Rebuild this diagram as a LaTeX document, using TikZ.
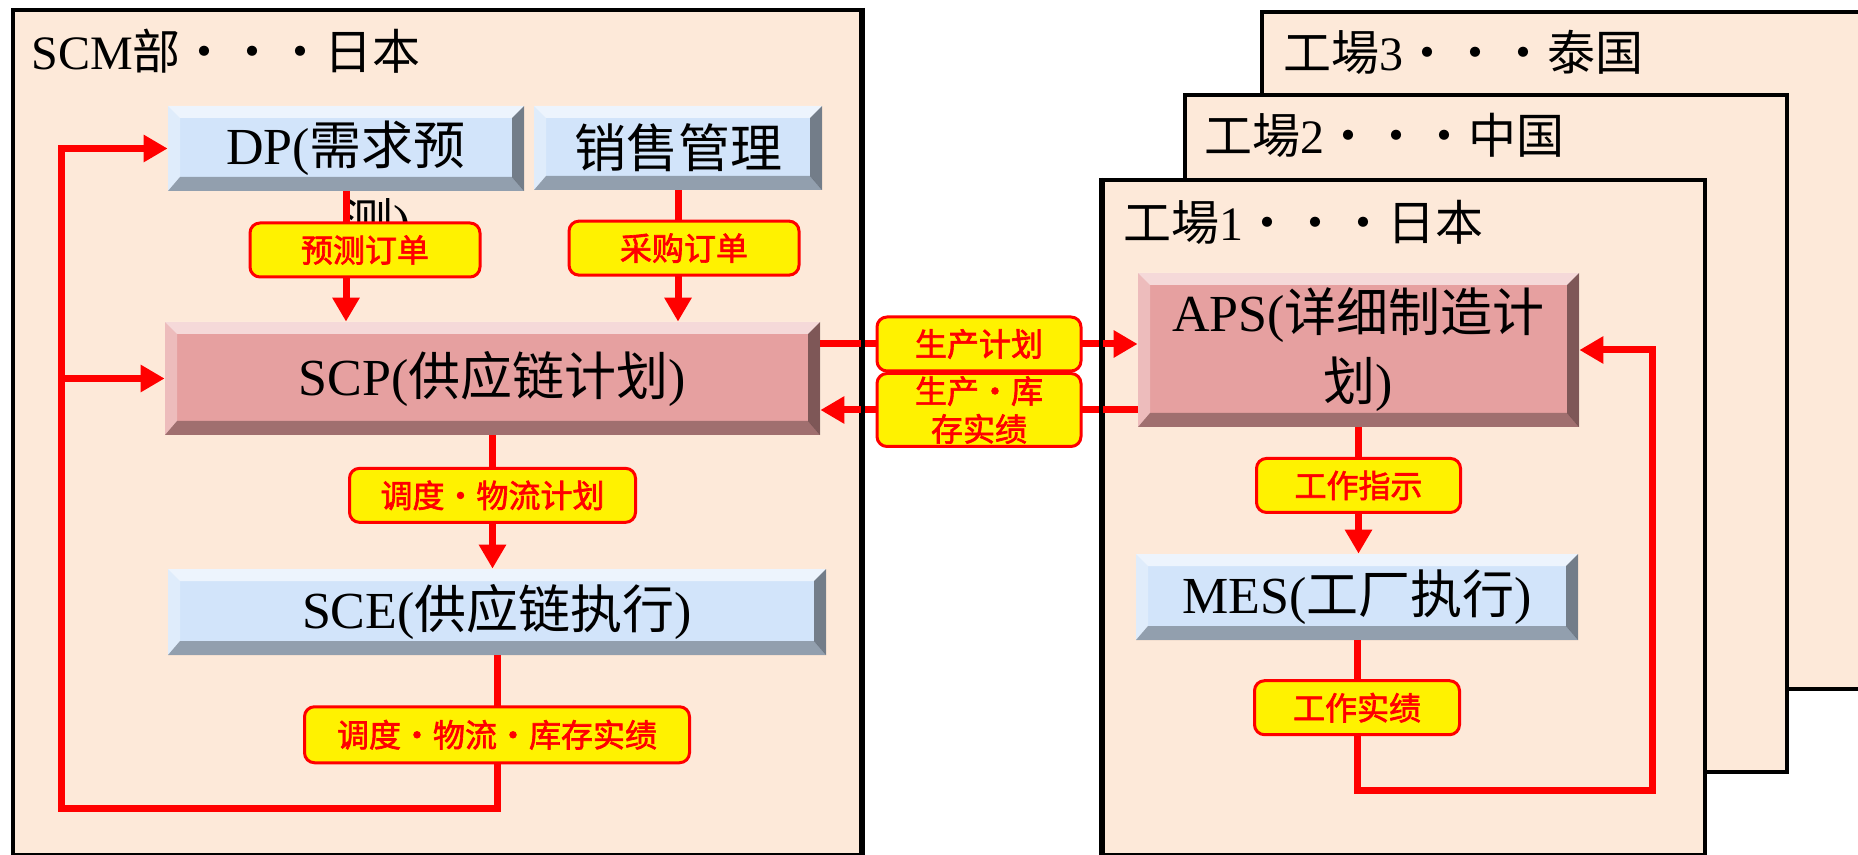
\documentclass[tikz,border=0pt]{standalone}
\usepackage{fontspec}
\setmainfont{Liberation Serif}
\newfontfamily\cjk{Noto Sans CJK SC}
\newfontfamily\tagcjk[FakeBold=2]{Noto Sans CJK SC}
\usetikzlibrary{arrows.meta, positioning}

\definecolor{peach}{HTML}{FDE9D9}
\definecolor{boxblue}{HTML}{D2E4FA}
\definecolor{boxpink}{HTML}{E6A0A0}

\newcommand{\boxfont}{\fontsize{26}{34.5}\selectfont}
\newcommand{\titlefont}{\fontsize{24}{28}\selectfont}
\newcommand{\tagfont}{\tagcjk\fontsize{16}{19}\selectfont}

\tikzset{
	frame/.style={draw=black, line width=2pt, fill=peach, anchor=north west, inner sep=0},
	border/.style={black, line width=2pt},
	title/.style={anchor=west, inner sep=0, font=\titlefont},
	bevel/.style={path picture={
		\path (path picture bounding box.north west) coordinate (bnw)
		      (path picture bounding box.north east) coordinate (bne)
		      (path picture bounding box.south west) coordinate (bsw)
		      (path picture bounding box.south east) coordinate (bse);
		\fill[white, opacity=.6] (bnw) -- (bne) -- ([shift={(-6pt,-6pt)}]bne) -- ([shift={(6pt,-6pt)}]bnw) -- cycle;
		\fill[white, opacity=.3] (bnw) -- ([shift={(6pt,-6pt)}]bnw) -- ([shift={(6pt,7pt)}]bsw) -- (bsw) -- cycle;
		\fill[black, opacity=.3] (bsw) -- ([shift={(6pt,7pt)}]bsw) -- ([shift={(-6pt,7pt)}]bse) -- (bse) -- cycle;
		\fill[black, opacity=.45] (bse) -- ([shift={(-6pt,7pt)}]bse) -- ([shift={(-6pt,-6pt)}]bne) -- (bne) -- cycle;
	}},
	sysbox/.style={bevel, fill=boxblue, inner sep=0, align=center, font=\boxfont},
	planbox/.style={sysbox, fill=boxpink},
	tag/.style={draw=red, fill=yellow, line width=1.5pt, rounded corners=5pt, text=red, font=\tagfont, inner sep=0, minimum height=27pt, align=center},
	flow/.style={red, line width=3.5pt, -{Triangle[length=12pt, width=13pt]}}
}

\begin{document}
\begin{tikzpicture}[x=0.5pt, y=-0.5pt]
	\useasboundingbox (0,0) rectangle (1858,855);
	\clip (0,0) rectangle (1858,855);

	% frames, back to front
	\node[frame, minimum width=320pt, minimum height=338.5pt]	(f3)	at (1260,10)	{};
	\node[frame, minimum width=301pt, minimum height=338.5pt]	(f2)	at (1183,93)	{};
	\node[frame, minimum width=301pt, minimum height=337.5pt]	(f1)	at (1101,178)	{};
	\node[frame, minimum width=424pt, minimum height=422.5pt]	(scm)	at (11,8)		{};

	\node[title]	(tScm)	at (31,51)		{SCM{\cjk 部・・・日本}};
	\node[title]	(tF3)	at (1283,52)	{{\cjk 工場}3{\cjk ・・・泰国}};
	\node[title]	(tF2)	at (1204,135)	{{\cjk 工場}2{\cjk ・・・中国}};
	\node[title]	(tF1)	at (1123,222)	{{\cjk 工場}1{\cjk ・・・日本}};

	\node[sysbox, minimum width=178pt, minimum height=42.5pt,
		label={[font=\boxfont, inner sep=0, label distance=3.5pt, xshift=15pt]below:{\cjk 测})}]
											(dp)	at (346,148.5)	{DP({\cjk 需求预}};
	\node[sysbox, minimum width=144pt, minimum height=42pt]		(sales)	at (678,148)	{\cjk 销售管理};
	\node[planbox, minimum width=327.5pt, minimum height=56.5pt]	(scp)	at (492.5,378.5)	{SCP({\cjk 供应链计划})};
	\node[sysbox, minimum width=329pt, minimum height=43pt]		(sce)	at (497,612)	{SCE({\cjk 供应链执行})};
	\node[planbox, minimum width=220.5pt, minimum height=77pt]	(aps)	at (1358.5,350)	{APS({\cjk 详细制造计}\\{\cjk 划})};
	\node[sysbox, minimum width=221pt, minimum height=43pt]		(mes)	at (1357,597)	{MES({\cjk 工厂执行})};

	\coordinate (loopL) at (61,808);
	\coordinate (loopR) at (1652,790);

	\path[flow]
	(dp.south)		edge node[tag, minimum width=115pt, pos=.45, xshift=9.5pt]	{预测订单}	(dp.south |- scp.north)
	(sales.south)	edge node[tag, minimum width=115pt, pos=.44, xshift=3pt]	{采购订单}	(sales.south |- scp.north)
	(scp.south)		edge node[tag, minimum width=143pt, pos=.45]	{调度・物流计划}	(scp.south |- sce.north)
	(aps.south)		edge node[tag, minimum width=102pt, pos=.46]	{工作指示}		(aps.south |- mes.north)
	;

	\draw[flow] (scp.east |- 0,344) -- node[tag, minimum width=102pt] {生产计划} (aps.west |- 0,344);
	\draw[flow] (aps.west |- 0,410) -- node[tag, minimum width=102pt, minimum height=36.5pt] {生产・库\\存实绩} (scp.east |- 0,410);

	\draw[flow] (sce.south) -- node[tag, minimum width=192.5pt, minimum height=28pt, pos=.52] {调度・物流・库存实绩}
		(sce.south |- loopL) -| (dp.west -| loopL) -- (dp.west);
	\draw[flow] (loopL |- scp.west) -- (scp.west);
	\draw[flow] (mes.south) -- node[tag, minimum width=102.5pt, pos=.45] {工作实绩}
		(mes.south |- loopR) -| (aps.east -| loopR) -- (aps.east);

	% frame edges lie over the crossing flows
	\draw[border] (scm.north east) -- (scm.south east);
	\draw[border] (f1.north west) -- (f1.south west);
\end{tikzpicture}
\end{document}
